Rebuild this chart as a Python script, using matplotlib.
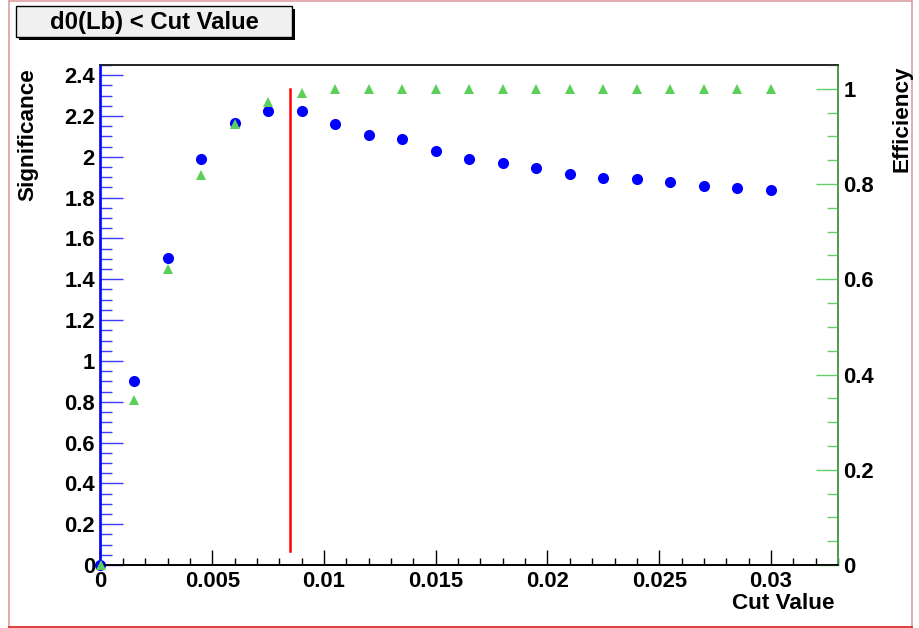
import matplotlib
matplotlib.use("Agg")
import matplotlib.pyplot as plt
from matplotlib.patches import Rectangle
from matplotlib.lines import Line2D
from matplotlib.ticker import MultipleLocator, FixedLocator

plt.rcParams['font.family'] = ['Liberation Sans', 'DejaVu Sans']
plt.rcParams['font.weight'] = 'bold'

# d0(Lb) cut scan
cut_values = [0.0, 0.0015, 0.003, 0.0045, 0.006, 0.0075, 0.009, 0.0105, 0.012,
              0.0135, 0.015, 0.0165, 0.018, 0.0195, 0.021, 0.0225, 0.024,
              0.0255, 0.027, 0.0285, 0.03]
significance = [0.0, 0.90, 1.505, 1.99, 2.168, 2.225, 2.227, 2.161, 2.109,
                2.086, 2.027, 1.99, 1.968, 1.944, 1.918, 1.895, 1.89,
                1.877, 1.857, 1.849, 1.839]
efficiency = [0.0, 0.346, 0.622, 0.818, 0.927, 0.972, 0.992, 0.999, 0.999,
              0.999, 1.0, 1.0, 1.0, 1.0, 1.0, 1.0, 1.0,
              1.0, 1.0, 1.0, 1.0]
best_cut = 0.0085
cut_line_span = [0.07, 2.33]

x_ticks = [0, 0.005, 0.01, 0.015, 0.02, 0.025, 0.03]
x_tick_labels = ["0", "0.005", "0.01", "0.015", "0.02", "0.025", "0.03"]
sig_ticks = [0, 0.2, 0.4, 0.6, 0.8, 1.0, 1.2, 1.4, 1.6, 1.8, 2.0, 2.2, 2.4]
sig_tick_labels = ["0", "0.2", "0.4", "0.6", "0.8", "1", "1.2", "1.4", "1.6",
                   "1.8", "2", "2.2", "2.4"]
eff_ticks = [0, 0.2, 0.4, 0.6, 0.8, 1.0]
eff_tick_labels = ["0", "0.2", "0.4", "0.6", "0.8", "1"]

W, H = 920, 628
fig = plt.figure(figsize=(W / 100, H / 100), dpi=100)

def fx(px):
    return px / W

def fy(py):
    return 1 - py / H

left, right, top, bottom = 100.5, 838.0, 65.0, 565.0
ax = fig.add_axes([fx(left), fy(bottom), fx(right - left), (bottom - top) / H])
ax2 = ax.twinx()

FS = 15.8
FS_TITLE = 16.2
BLUE = '#0000ff'
BLUE_TICK = '#3c3cff'
GREEN = '#5acf5a'
GREEN_AXIS = '#4a9a4a'
GREEN_TICK = '#66cc66'

ax.set_xlim(0, 0.033)
ax.set_ylim(0, 2.45)
ax2.set_ylim(0, 1.05)

# significance markers
ax.plot(cut_values, significance, linestyle='none', marker='o', markersize=8.0,
        color=BLUE, markeredgewidth=0, clip_on=False, zorder=3)
# chosen cut
ax.plot([best_cut, best_cut], cut_line_span, color='#ff0000', linewidth=1.8, zorder=2)
# efficiency markers
ax2.plot(cut_values, efficiency, linestyle='none', marker='^', markersize=7.4,
         color=GREEN, markeredgewidth=0, clip_on=False, zorder=3)

# x axis
ax.xaxis.set_major_locator(FixedLocator(x_ticks))
ax.set_xticklabels(x_tick_labels)
ax.xaxis.set_minor_locator(MultipleLocator(0.001))
ax.tick_params(axis='x', which='major', direction='in', length=10.8, width=1.0,
               color='black', labelsize=FS, pad=4, top=False)
ax.tick_params(axis='x', which='minor', direction='in', length=5.3, width=1.0,
               color='black', top=False)

# left y axis
ax.yaxis.set_major_locator(FixedLocator(sig_ticks))
ax.set_yticklabels(sig_tick_labels)
ax.yaxis.set_minor_locator(MultipleLocator(0.05))
ax.tick_params(axis='y', which='major', direction='in', length=16.5, width=1.0,
               color=BLUE_TICK, labelsize=FS, pad=4)
ax.tick_params(axis='y', which='minor', direction='in', length=8.4, width=1.0,
               color=BLUE_TICK)

# right y axis
ax2.yaxis.set_major_locator(FixedLocator(eff_ticks))
ax2.set_yticklabels(eff_tick_labels)
ax2.yaxis.set_minor_locator(MultipleLocator(0.05))
ax2.tick_params(axis='y', which='major', direction='in', length=16.0, width=1.0,
                color=GREEN_TICK, labelsize=FS, pad=4)
ax2.tick_params(axis='y', which='minor', direction='in', length=8.0, width=1.0,
                color=GREEN_TICK)

for lab in ax.get_xticklabels() + ax.get_yticklabels() + ax2.get_yticklabels():
    lab.set_fontweight('bold')

for a in (ax, ax2):
    a.spines['top'].set_color('#222222')
    a.spines['bottom'].set_color('black')
    a.spines['left'].set_color(BLUE)
    a.spines['right'].set_color(GREEN_AXIS)
    for s in a.spines.values():
        s.set_linewidth(1.2)
ax2.patch.set_visible(False)

# axis titles
fig.text(fx(28), fy(68), "Significance", rotation=90, ha='center', va='top',
         fontsize=FS_TITLE, fontweight='bold')
fig.text(fx(902), fy(66), "Efficiency", rotation=90, ha='center', va='top',
         fontsize=FS_TITLE, fontweight='bold')
fig.text(fx(835), fy(593), "Cut Value", ha='right', va='top',
         fontsize=FS_TITLE, fontweight='bold')

# title box with shadow
bx0, by0, bx1, by1 = 16, 6, 292, 37
fig.patches.append(Rectangle((fx(bx0 + 3), fy(by1 + 3)), fx(bx1 - bx0), (by1 - by0) / H,
                             transform=fig.transFigure, facecolor='black',
                             edgecolor='black', linewidth=0, zorder=1))
fig.patches.append(Rectangle((fx(bx0), fy(by1)), fx(bx1 - bx0), (by1 - by0) / H,
                             transform=fig.transFigure, facecolor='#f0f0f0',
                             edgecolor='black', linewidth=1.0, zorder=2))
fig.text(fx((bx0 + bx1) / 2), fy((by0 + by1) / 2 + 1), "d0(Lb) < Cut Value",
         ha='center', va='center', fontsize=17.2, fontweight='bold', zorder=3)

# canvas frame
frame_col = '#dba0a0'
fig.lines.append(Line2D([fx(8.5), fx(8.5)], [fy(1), fy(627)], transform=fig.transFigure,
                        color=frame_col, linewidth=1.2))
fig.lines.append(Line2D([fx(8.5), fx(912.5)], [fy(1), fy(1)], transform=fig.transFigure,
                        color=frame_col, linewidth=1.2))
fig.lines.append(Line2D([fx(912.5), fx(912.5)], [fy(1), fy(627)], transform=fig.transFigure,
                        color=frame_col, linewidth=1.2))
fig.lines.append(Line2D([fx(8.5), fx(912.5)], [fy(627), fy(627)], transform=fig.transFigure,
                        color='#e03c3c', linewidth=1.4))

fig.savefig("out.png", dpi=100)
